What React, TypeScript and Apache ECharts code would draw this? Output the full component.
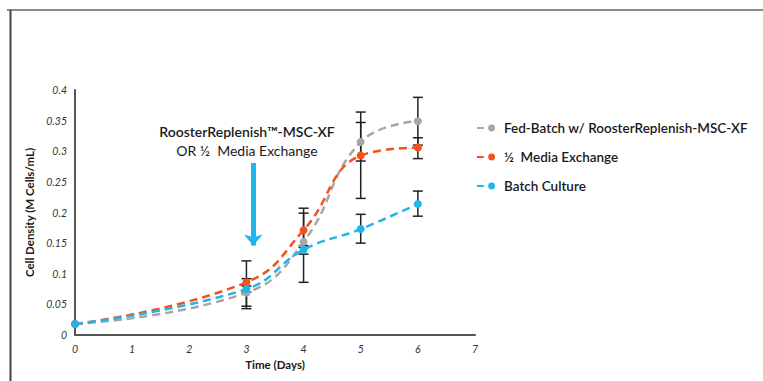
import React, { useEffect, useRef } from "react";
import * as echarts from "echarts";

const seriesNames = [
  "Fed-Batch w/ RoosterReplenish-MSC-XF",
  "½  Media Exchange",
  "Batch Culture",
];
const seriesColors = ["#a6a6a6", "#f4511e", "#1fb6ea"];
const days = [0, 3, 4, 5, 6];
const fedBatch = [0.018, 0.069, 0.152, 0.315, 0.349];
const mediaExchange = [0.018, 0.086, 0.171, 0.293, 0.306];
const batchCulture = [0.018, 0.075, 0.139, 0.173, 0.214];
// error bar [low, high] per day
const fedBatchErr = [
  [0.018, 0.018],
  [0.043, 0.092],
  [0.086, 0.207],
  [0.284, 0.364],
  [0.31, 0.388],
];
const mediaExchangeErr = [
  [0.018, 0.018],
  [0.047, 0.121],
  [0.143, 0.199],
  [0.223, 0.347],
  [0.288, 0.322],
];
const batchCultureErr = [
  [0.018, 0.018],
  [0.07, 0.08],
  [0.132, 0.146],
  [0.15, 0.197],
  [0.194, 0.235],
];
const arrowDay = 3.12;
const arrowFrom = 0.281;
const arrowTo = 0.146;
const annotationLines = ["RoosterReplenish™-MSC-XF", "OR ½  Media Exchange"];

const FONT = "Lato, 'Noto Sans', sans-serif";

export default function App() {
  const ref = useRef<HTMLDivElement>(null);
  useEffect(() => {
    if (!ref.current) return;
    const chart = echarts.init(ref.current, undefined, { renderer: "svg" });
    const values = [fedBatch, mediaExchange, batchCulture];
    const errs = [fedBatchErr, mediaExchangeErr, batchCultureErr];

    const lineSeries = values.map((v, i) => ({
      name: seriesNames[i],
      type: "line",
      data: days.map((d, j) => [d, v[j]]),
      smooth: 0.45,
      symbol: "circle",
      symbolSize: 8,
      z: 5 + i,
      itemStyle: { color: seriesColors[i] },
      lineStyle: { color: seriesColors[i], width: 2.5, type: [8, 5] },
      ...(i === 2
        ? {
            markLine: {
              silent: true,
              symbol: ["none", "triangle"],
              symbolSize: [14, 11],
              symbolRotate: 180,
              label: { show: false },
              lineStyle: { color: "#1fb6ea", width: 5, type: "solid" },
              data: [
                [
                  { coord: [arrowDay, arrowFrom], symbol: "none" },
                  { coord: [arrowDay, arrowTo], symbol: "arrow" },
                ],
              ],
            },
          }
        : {}),
    }));

    const errSeries = errs.map((e, i) => ({
      type: "custom",
      name: seriesNames[i] + " err",
      z: 3,
      data: days.map((d, j) => [d, e[j][0], e[j][1]]),
      renderItem: (params: any, api: any) => {
        const x = api.value(0);
        const lo = api.coord([x, api.value(1)]);
        const hi = api.coord([x, api.value(2)]);
        if (Math.abs(lo[1] - hi[1]) < 1) return null;
        const w = 5;
        const st = { stroke: "#222", lineWidth: 1.5 };
        return {
          type: "group",
          children: [
            { type: "line", shape: { x1: lo[0], y1: lo[1], x2: hi[0], y2: hi[1] }, style: st },
            { type: "line", shape: { x1: lo[0] - w, y1: lo[1], x2: lo[0] + w, y2: lo[1] }, style: st },
            { type: "line", shape: { x1: hi[0] - w, y1: hi[1], x2: hi[0] + w, y2: hi[1] }, style: st },
          ],
        };
      },
    }));

    chart.setOption({
      animation: false,
      textStyle: { fontFamily: FONT },
      grid: { left: 75, top: 90, width: 400, height: 245, containLabel: false },
      legend: {
        orient: "vertical",
        left: 472,
        top: 116,
        itemGap: 15,
        itemWidth: 18,
        itemHeight: 7,
        icon: "path://M0,3.6H7V5.4H0Z M11.5,4.5A3.5,3.5 0 1 1 18.5,4.5A3.5,3.5 0 1 1 11.5,4.5Z",
        data: seriesNames,
        textStyle: { fontSize: 13.5, fontWeight: 600, color: "#1a1a1a", fontFamily: FONT, padding: [0, 0, 0, 4] },
      },
      xAxis: {
        type: "value",
        min: 0,
        max: 7,
        interval: 1,
        name: "Time (Days)",
        nameLocation: "middle",
        nameGap: 20,
        nameTextStyle: { fontSize: 11.5, fontWeight: "bold", color: "#1a1a1a", fontFamily: FONT },
        axisLine: { show: true, lineStyle: { color: "#555", width: 2 } },
        axisTick: { show: false },
        splitLine: { show: false },
        axisLabel: { fontSize: 10.5, fontStyle: "italic", color: "#333", margin: 8, fontFamily: FONT },
      },
      yAxis: {
        type: "value",
        min: 0,
        max: 0.4,
        interval: 0.05,
        name: "Cell Density (M Cells/mL)",
        nameLocation: "middle",
        nameGap: 35,
        nameTextStyle: { fontSize: 11.5, fontWeight: "bold", color: "#1a1a1a", fontFamily: FONT },
        axisLine: { show: true, lineStyle: { color: "#555", width: 2 } },
        axisTick: { show: false },
        splitLine: { show: false },
        axisLabel: {
          fontSize: 10.5,
          fontStyle: "italic",
          color: "#333",
          margin: 8,
          fontFamily: FONT,
          formatter: (v: number) => (v === 0 ? "0" : String(+v.toFixed(2))),
        },
      },
      graphic: [
        { type: "line", shape: { x1: 7, y1: 10, x2: 763, y2: 10 }, style: { stroke: "#8a8a8a", lineWidth: 2 } },
        { type: "line", shape: { x1: 10.5, y1: 10, x2: 10.5, y2: 381 }, style: { stroke: "#444", lineWidth: 2 } },
        {
          type: "text",
          x: 247,
          y: 131,
          style: {
            text: annotationLines[0],
            fontSize: 14,
            fontWeight: 600,
            fontFamily: FONT,
            fill: "#1a1a1a",
            textAlign: "center",
            textVerticalAlign: "middle",
          },
        },
        {
          type: "text",
          x: 247,
          y: 150,
          style: {
            text: annotationLines[1],
            fontSize: 14,
            fontFamily: FONT,
            fill: "#1a1a1a",
            textAlign: "center",
            textVerticalAlign: "middle",
          },
        },
      ],
      series: [...errSeries, ...lineSeries],
    });
    return () => chart.dispose();
  }, []);
  return (
    <div
      ref={ref}
      style={{ position: "fixed", left: 0, top: 0, width: 763, height: 381, background: "#fff" }}
    />
  );
}
